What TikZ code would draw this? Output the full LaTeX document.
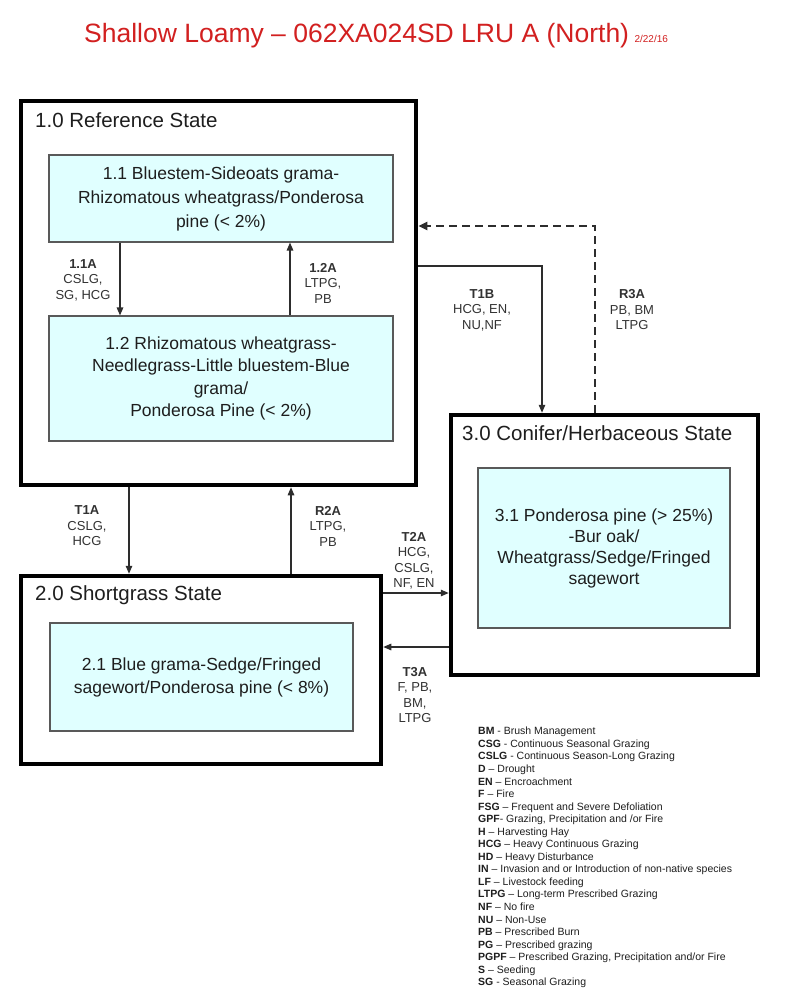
\documentclass[tikz,border=0pt]{standalone}
\usepackage{fontspec}
\setmainfont{Liberation Sans}
\usetikzlibrary{arrows.meta}
\definecolor{titlered}{RGB}{210,32,32}
\definecolor{boxfill}{RGB}{224,255,255}
\definecolor{txt}{RGB}{30,30,30}
\definecolor{lbltxt}{RGB}{50,50,50}
\definecolor{arrcol}{RGB}{45,45,45}
\begin{document}
\begin{tikzpicture}[x=1pt,y=-1pt,
  statebox/.style={draw=black,line width=4.5pt,inner sep=0pt},
  subbox/.style={draw=black!65,line width=1.1pt,fill=boxfill,align=center,text=txt,inner sep=0pt},
  sttitle/.style={anchor=west,inner sep=0pt,text=txt,font=\fontsize{20.5}{24}\selectfont},
  lbl/.style={align=center,inner sep=0pt,text=lbltxt,font=\fontsize{13}{15.5}\selectfont},
  arr/.style={draw=arrcol,line width=1.3pt,-{Triangle[length=8pt,width=6.5pt]}},
  darr/.style={draw=arrcol,line width=2.6pt,dash pattern=on 8pt off 5pt,-{Triangle[length=9pt,width=8pt]}}]
\fill[white] (0,0) rectangle (800,1006);
\useasboundingbox (0,0) rectangle (800,1006);

% title
\node[anchor=west,inner sep=0pt,text=titlered,font=\fontsize{26.5}{30}\selectfont] (title) at (84,36) {Shallow Loamy – 062XA024SD LRU A (North)};
\node[anchor=base west,inner sep=0pt,text=titlered,font=\fontsize{10}{12}\selectfont] (date) at ([xshift=5pt]title.base east) {2/22/16};

% state boxes
\node[statebox,minimum width=395pt,minimum height=384pt] (s1) at (218.5,293) {};
\node[statebox,minimum width=360pt,minimum height=188pt] (s2) at (201,670) {};
\node[statebox,minimum width=307pt,minimum height=260pt] (s3) at (604.5,545) {};

\node[sttitle] (t1) at (35,120) {1.0 Reference State};
\node[sttitle] (t2) at (35,595) {2.0 Shortgrass State};
\node[sttitle] (t3) at (462,433) {3.0 Conifer/Herbaceous State};

% community boxes
\node[subbox,minimum width=344pt,minimum height=87pt,font=\fontsize{17.5}{24}\selectfont] (b11) at (221,198.5) {1.1 Bluestem-Sideoats grama-\\Rhizomatous wheatgrass/Ponderosa\\pine (< 2\%)};
\node[subbox,minimum width=344pt,minimum height=125pt,font=\fontsize{17.5}{22.3}\selectfont] (b12) at (221,378.5) {1.2 Rhizomatous wheatgrass-\\Needlegrass-Little bluestem-Blue\\grama/\\Ponderosa Pine (< 2\%)};
\node[subbox,minimum width=303pt,minimum height=108pt,font=\fontsize{17.5}{23}\selectfont] (b21) at (201.5,677) {2.1 Blue grama-Sedge/Fringed\\sagewort/Ponderosa pine (< 8\%)};
\node[subbox,minimum width=252pt,minimum height=160pt,font=\fontsize{17.5}{21}\selectfont] (b31) at (604,548) {3.1 Ponderosa pine (> 25\%)\\-Bur oak/\\Wheatgrass/Sedge/Fringed\\sagewort};

% helper coordinates
\coordinate (x120) at (120,0);
\coordinate (x290) at (290,0);
\coordinate (x542) at (542,0);
\coordinate (x595) at (595,0);
\coordinate (x129) at (129,0);
\coordinate (x291) at (291,0);
\coordinate (y266) at (0,266);
\coordinate (y226) at (0,226);
\coordinate (y593) at (0,593);
\coordinate (y647) at (0,647);

% connectors
\draw[arr] (b11.south -| x120) -- (b12.north -| x120);
\draw[arr] (b12.north -| x290) -- (b11.south -| x290);
\draw[arr] (s1.east |- y266) -| (s3.north -| x542);
\draw[darr] (s3.north -| x595) |- (s1.east |- y226);
\draw[arr] (s1.south -| x129) -- (s2.north -| x129);
\draw[arr] (s2.north -| x291) -- (s1.south -| x291);
\draw[arr] (s2.east |- y593) -- (s3.west |- y593);
\draw[arr] (s3.west |- y647) -- (s2.east |- y647);

% labels
\node[lbl] (l11) at (83,280) {\textbf{1.1A}\\CSLG,\\SG, HCG};
\node[lbl] (l12) at (323,283) {\textbf{1.2A}\\LTPG,\\PB};
\node[lbl] (lt1b) at (482,310) {\textbf{T1B}\\HCG, EN,\\NU,NF};
\node[lbl] (lr3a) at (632,310) {\textbf{R3A}\\PB, BM\\LTPG};
\node[lbl] (lt1a) at (87,526) {\textbf{T1A}\\CSLG,\\HCG};
\node[lbl] (lr2a) at (328,526) {\textbf{R2A}\\LTPG,\\PB};
\node[lbl] (lt2a) at (414,561) {\textbf{T2A}\\HCG,\\CSLG,\\NF, EN};
\node[lbl] (lt3a) at (415,695) {\textbf{T3A}\\F, PB,\\BM,\\LTPG};

% legend
\node[anchor=north west,inner sep=0pt,align=left,text=txt,font=\fontsize{10.5}{12.55}\selectfont] (legend) at (478,727) {%
\textbf{BM} - Brush Management\\
\textbf{CSG} - Continuous Seasonal Grazing\\
\textbf{CSLG} - Continuous Season-Long Grazing\\
\textbf{D} – Drought\\
\textbf{EN} – Encroachment\\
\textbf{F} – Fire\\
\textbf{FSG} – Frequent and Severe Defoliation\\
\textbf{GPF}- Grazing, Precipitation and /or Fire\\
\textbf{H} – Harvesting Hay\\
\textbf{HCG} – Heavy Continuous Grazing\\
\textbf{HD} – Heavy Disturbance\\
\textbf{IN} – Invasion and or Introduction of non-native species\\
\textbf{LF} – Livestock feeding\\
\textbf{LTPG} – Long-term Prescribed Grazing\\
\textbf{NF} – No fire\\
\textbf{NU} – Non-Use\\
\textbf{PB} – Prescribed Burn\\
\textbf{PG} – Prescribed grazing\\
\textbf{PGPF} – Prescribed Grazing, Precipitation and/or Fire\\
\textbf{S} – Seeding\\
\textbf{SG} - Seasonal Grazing};
\end{tikzpicture}
\end{document}
